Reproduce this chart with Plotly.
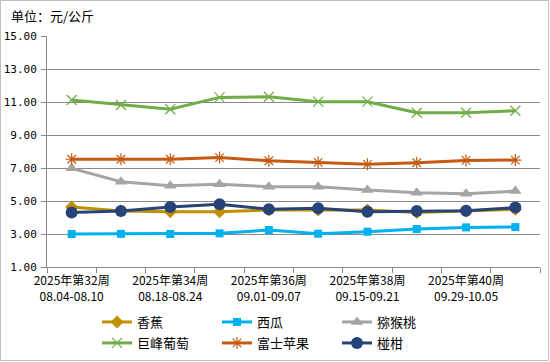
import plotly.graph_objects as go

weeks = ["2025年第32周<br>08.04-08.10", "2025年第33周<br>08.11-08.17", "2025年第34周<br>08.18-08.24",
         "2025年第35周<br>08.25-08.31", "2025年第36周<br>09.01-09.07", "2025年第37周<br>09.08-09.14",
         "2025年第38周<br>09.15-09.21", "2025年第39周<br>09.22-09.28", "2025年第40周<br>09.29-10.05",
         "2025年第41周<br>10.06-10.12"]

banana = [4.64, 4.40, 4.35, 4.35, 4.45, 4.45, 4.45, 4.30, 4.40, 4.50]
watermelon = [3.00, 3.01, 3.00, 3.04, 3.24, 3.02, 3.14, 3.30, 3.40, 3.42]
kiwi = [6.98, 6.17, 5.93, 6.01, 5.87, 5.87, 5.67, 5.50, 5.44, 5.60]
grape = [11.12, 10.82, 10.56, 11.28, 11.32, 11.02, 11.02, 10.35, 10.35, 10.47]
apple = [7.53, 7.53, 7.53, 7.63, 7.44, 7.34, 7.22, 7.32, 7.46, 7.48]
orange = [4.31, 4.39, 4.64, 4.80, 4.50, 4.56, 4.35, 4.39, 4.41, 4.60]

series = [
    ("香蕉", banana, "#BF9000", "diamond", 10, "legend"),
    ("西瓜", watermelon, "#00B0F0", "square", 8, "legend"),
    ("猕猴桃", kiwi, "#A5A5A5", "triangle-up", 11, "legend"),
    ("巨峰葡萄", grape, "#70AD47", "x-thin-open", 10, "legend2"),
    ("富士苹果", apple, "#C55A11", "asterisk-open", 10, "legend2"),
    ("椪柑", orange, "#264478", "circle", 12, "legend2"),
]

W, H = 550, 362
L, R, T, B = 47, 10, 36, 95
pw, ph = W - L - R, H - T - B

xs = list(range(len(weeks)))
fig = go.Figure()
for name, vals, color, sym, size, lg in series:
    fig.add_trace(go.Scatter(
        x=xs, y=vals, name=name, mode="lines+markers",
        line=dict(color=color, width=3),
        marker=dict(symbol=sym, size=size, color=color,
                    line=dict(color=color, width=1.2 if "open" in sym else 0)),
        legend=lg,
    ))

label_idx = [0, 2, 4, 6, 8]
font = "Noto Sans CJK SC"
mono = "DejaVu Sans Mono, Noto Sans CJK SC"

def px2x(p):
    return (p - L) / pw

def py2y(p):
    return (H - B - p) / ph

fig.update_layout(
    width=W, height=H,
    margin=dict(l=L, r=R, t=T, b=B, autoexpand=False),
    paper_bgcolor="white", plot_bgcolor="white",
    font=dict(family=font, size=12, color="#000000"),
    xaxis=dict(
        range=[-0.5, 9.5], tickmode="array", tickvals=label_idx,
        ticktext=[weeks[i] for i in label_idx], ticks="",
        showgrid=False, zeroline=False, showline=True, linecolor="#898989", linewidth=1,
        tickfont=dict(family=font, size=12, color="#000000"),
        ticklabelstandoff=3,
        minor=dict(tickmode="linear", tick0=-0.5, dtick=1, ticks="outside", ticklen=5,
                   tickcolor="#898989", tickwidth=1, showgrid=False),
        fixedrange=True,
    ),
    yaxis=dict(
        range=[1, 15], dtick=2, tick0=1, tickformat=".2f",
        showgrid=True, gridcolor="#898989", gridwidth=1, zeroline=False,
        showline=True, linecolor="#898989", linewidth=1,
        ticks="outside", ticklen=5, tickcolor="#898989",
        tickfont=dict(family=mono, size=11, color="#000000"),
        ticklabelstandoff=2,
        fixedrange=True,
    ),
    legend=dict(orientation="h", x=px2x(97), xanchor="left", y=py2y(322), yanchor="middle",
                entrywidth=75, entrywidthmode="pixels", font=dict(family=font, size=13),
                bgcolor="rgba(0,0,0,0)", tracegroupgap=0),
    legend2=dict(orientation="h", x=px2x(97), xanchor="left", y=py2y(343), yanchor="middle",
                 entrywidth=75, entrywidthmode="pixels", font=dict(family=font, size=13),
                 bgcolor="rgba(0,0,0,0)", tracegroupgap=0),
    showlegend=True,
    annotations=[dict(text="单位：元/公斤", xref="paper", yref="paper", x=px2x(9), y=py2y(15),
                      xanchor="left", yanchor="middle", showarrow=False,
                      font=dict(family=font, size=13, color="#000000"))],
    shapes=[dict(type="rect", xref="paper", yref="paper",
                 x0=px2x(0.5), x1=px2x(548.5), y0=py2y(360.5), y1=py2y(0.5),
                 line=dict(color="#BFBFBF", width=1), fillcolor="rgba(0,0,0,0)", layer="below")],
)

fig.write_html("out.html", config={"displayModeBar": False},
               post_script="document.body.style.margin='0';document.body.style.overflow='hidden';")
